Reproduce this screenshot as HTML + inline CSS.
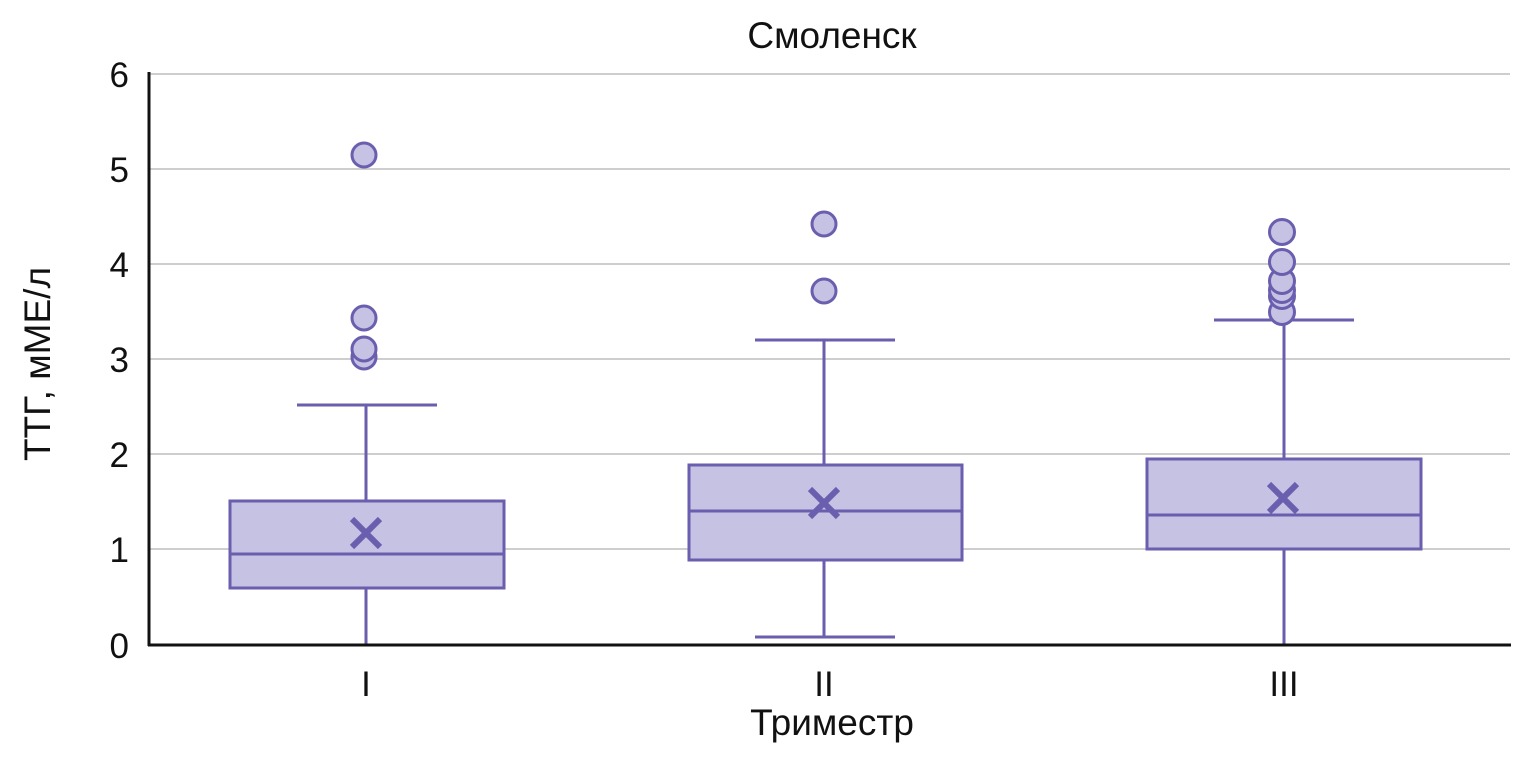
<!DOCTYPE html>
<html><head><meta charset="utf-8"><style>body{margin:0;background:#fff}</style></head><body>
<svg width="1514" height="754" xmlns="http://www.w3.org/2000/svg" font-family="Liberation Sans, sans-serif">
<g stroke="#bdbdbd" stroke-width="1.5">
<line x1="149" x2="1510" y1="74" y2="74"/><line x1="149" x2="1510" y1="169" y2="169"/><line x1="149" x2="1510" y1="264" y2="264"/><line x1="149" x2="1510" y1="359" y2="359"/><line x1="149" x2="1510" y1="454" y2="454"/><line x1="149" x2="1510" y1="549" y2="549"/>
</g>
<g font-size="35" fill="#111" text-anchor="end">
<text x="129" y="87">6</text><text x="129" y="182">5</text><text x="129" y="277">4</text><text x="129" y="372">3</text><text x="129" y="467">2</text><text x="129" y="562">1</text><text x="129" y="658">0</text>
</g>
<g stroke="#6a5eae" stroke-width="3" fill="#c5c2e3">
<line x1="366" x2="366" y1="405" y2="645"/><line x1="297" x2="437" y1="405" y2="405"/><line x1="297" x2="437" y1="645" y2="645"/>
<rect x="230" y="501" width="274" height="87"/><line x1="230" x2="504" y1="554" y2="554"/>
<circle cx="364" cy="357" r="12"/><circle cx="364" cy="349" r="12"/><circle cx="364" cy="318" r="12"/><circle cx="364" cy="155" r="12"/>
<line x1="824" x2="824" y1="340" y2="637"/><line x1="755" x2="895" y1="340" y2="340"/><line x1="755" x2="895" y1="637" y2="637"/>
<rect x="689" y="465" width="273" height="95"/><line x1="689" x2="962" y1="511" y2="511"/>
<circle cx="824" cy="291" r="12"/><circle cx="824" cy="224" r="12"/>
<line x1="1284" x2="1284" y1="320" y2="645"/><line x1="1214" x2="1354" y1="320" y2="320"/><line x1="1214" x2="1354" y1="645" y2="645"/>
<rect x="1147" y="459" width="274" height="90"/><line x1="1147" x2="1421" y1="515" y2="515"/>
<circle cx="1282" cy="312" r="12.5"/><circle cx="1282" cy="296" r="12.5"/><circle cx="1282" cy="290" r="12.5"/><circle cx="1282" cy="281" r="12.5"/><circle cx="1282" cy="262" r="12.5"/><circle cx="1282" cy="232" r="12.5"/>
</g>
<g stroke="#6a5eae" stroke-width="6">
<path d="M352 519 L380 547 M380 519 L352 547"/>
<path d="M810 489 L838 517 M838 489 L810 517"/>
<path d="M1269 484 L1297 512 M1297 484 L1269 512"/>
</g>
<g stroke="#111" stroke-width="3"><line x1="149" x2="149" y1="72" y2="646"/><line x1="148" x2="1511" y1="645" y2="645"/></g>
<g font-size="35" fill="#111" text-anchor="middle">
<text x="366" y="696">I</text><text x="824" y="696">II</text><text x="1284" y="696">III</text>
</g>
<g font-size="37" fill="#111" text-anchor="middle">
<text x="832" y="735">Триместр</text>
<text x="832" y="48">Смоленск</text>
<text transform="translate(50,364) rotate(-90)">ТТГ, мМЕ/л</text>
</g>
</svg>
</body></html>
